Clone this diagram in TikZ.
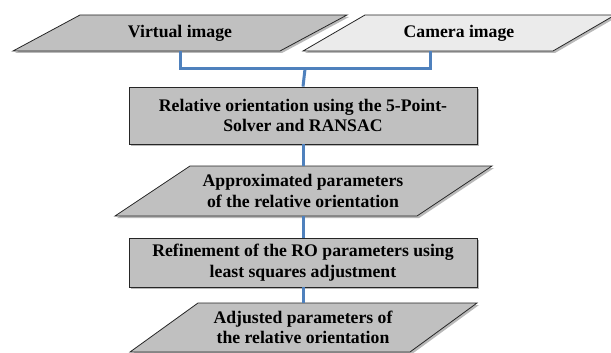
\documentclass[tikz,border=0pt]{standalone}
\usepackage{fontspec}
\setmainfont{Liberation Serif}
\usetikzlibrary{shadows}
\definecolor{boxgray}{HTML}{C0C0C0}
\definecolor{camgray}{HTML}{EBEBEB}
\definecolor{linkblue}{HTML}{4F81BD}
\begin{document}
\begin{tikzpicture}[x=1pt, y=-1pt,
  flowshape/.style={draw=black!85, line width=0.8pt, fill=boxgray,
    drop shadow={shadow xshift=2pt, shadow yshift=-2pt, fill=black!55}},
  txt/.style={inner sep=0pt, align=center, font=\fontsize{17.7}{20.5}\selectfont\bfseries},
  link/.style={draw=linkblue, line width=3pt}]
\useasboundingbox (0,0) rectangle (611,353);
\draw[flowshape] (80,15) -- (347,15) -- (280,51) -- (13,51) -- cycle;
\node[txt, minimum height=36pt] (virt) at (180,33) {Virtual image};
\draw[flowshape, fill=camgray] (365,15) -- (615,15) -- (553,51) -- (303,51) -- cycle;
\node[txt, minimum height=36pt] (cam) at (459,33) {Camera image};
\node[flowshape, txt, minimum width=348pt, minimum height=57pt] (relori) at (303,115.5) {Relative orientation using the 5-Point-\\Solver and RANSAC};
\draw[flowshape] (190,166) -- (492,166) -- (417,216) -- (115,216) -- cycle;
\node[txt, minimum height=50pt] (approx) at (303,191) {Approximated parameters\\of the relative orientation};
\node[flowshape, txt, minimum width=348pt, minimum height=49pt] (refine) at (303,262.5) {Refinement of the RO parameters using\\least squares adjustment};
\draw[flowshape] (198,303) -- (477,303) -- (410,352) -- (130,352) -- cycle;
\node[txt, minimum height=49pt] (adjust) at (303,327.5) {Adjusted parameters of\\the relative orientation};
\coordinate (join) at (305,69);
\draw[link](virt.south) |- (join);
\draw[link]([xshift=-29pt]cam.south) |- (join);
\draw[link](join) -- (relori.north);
\draw[link](relori.south) -- (approx.north);
\draw[link](approx.south) -- (refine.north);
\draw[link](refine.south) -- (adjust.north);

\end{tikzpicture}
\end{document}
